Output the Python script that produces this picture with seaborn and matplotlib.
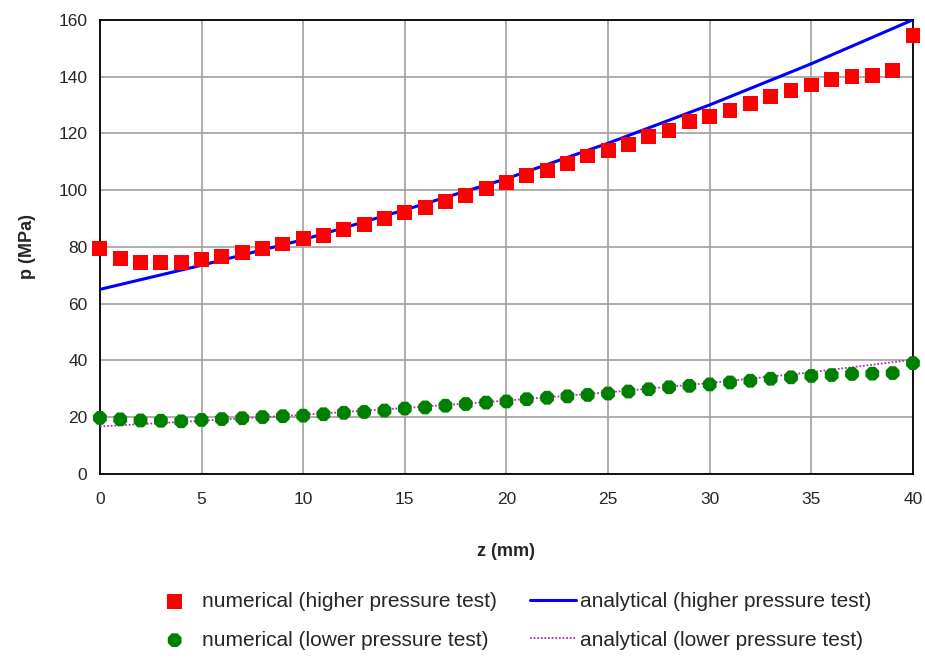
import numpy as np
import pandas as pd
import matplotlib
matplotlib.use("Agg")
import matplotlib.pyplot as plt
import seaborn as sns

# Numerical results, one point per mm
z_num = list(range(0, 41))
p_num_high = [79.5, 76.0, 74.5, 74.5, 74.5, 75.5, 76.5, 78.0, 79.5, 81.0,
              83.0, 84.0, 86.0, 88.0, 90.0, 92.0, 94.0, 96.0, 98.0, 100.5,
              102.5, 105.0, 107.0, 109.5, 112.0, 114.0, 116.0, 119.0, 121.0, 124.0,
              126.0, 128.0, 130.5, 133.0, 135.0, 137.0, 139.0, 140.0, 140.5, 142.0,
              154.5]
p_num_low = [19.7, 19.2, 18.8, 18.7, 18.5, 19.0, 19.3, 19.6, 20.0, 20.3,
             20.5, 21.0, 21.5, 21.8, 22.3, 23.0, 23.4, 24.0, 24.6, 25.1,
             25.5, 26.3, 26.8, 27.3, 27.8, 28.3, 29.0, 29.8, 30.5, 31.0,
             31.5, 32.2, 32.8, 33.5, 34.0, 34.5, 34.8, 35.2, 35.3, 35.5,
             39.0]

# Analytical curves
z_ana = [0, 5, 10, 15, 20, 25, 30, 35, 40]
p_ana_high = [65.0, 73.5, 82.5, 93.0, 104.0, 116.5, 130.0, 144.5, 160.0]
p_ana_low = [16.7, 18.7, 20.8, 23.2, 25.8, 28.7, 32.0, 35.8, 40.2]

sns.set_style("white")
plt.rcParams["font.family"] = ["Liberation Sans", "DejaVu Sans"]

fig = plt.figure(figsize=(9.25, 6.59), dpi=100)
ax = fig.add_axes([0.108, 0.281, 0.879, 0.689])

num = pd.DataFrame({"z": z_num, "high": p_num_high, "low": p_num_low})
ana = pd.DataFrame({"z": z_ana, "high": p_ana_high, "low": p_ana_low})

sns.lineplot(data=ana, x="z", y="high", ax=ax, color="#0000ff", linewidth=2.2,
             label="analytical (higher pressure test)", zorder=3)
sns.lineplot(data=ana, x="z", y="low", ax=ax, color="#b030b0", linewidth=1.3,
             linestyle=(0, (1, 1)), label="analytical (lower pressure test)", zorder=3)
sns.scatterplot(data=num, x="z", y="high", ax=ax, marker="s", s=115, color="#ff0000",
                edgecolor="none", label="numerical (higher pressure test)", zorder=4,
                clip_on=False)
sns.scatterplot(data=num, x="z", y="low", ax=ax, marker="8", s=115, color="#008000",
                edgecolor="none", label="numerical (lower pressure test)", zorder=4,
                clip_on=False)

ax.set_xlim(0, 40)
ax.set_ylim(0, 160)
ax.set_xticks(range(0, 41, 5))
ax.set_yticks(range(0, 161, 20))
ax.grid(True, color="#a0a0a0", linewidth=1.2)
ax.set_axisbelow(True)
for sp in ax.spines.values():
    sp.set_color("black")
    sp.set_linewidth(1.3)
ax.tick_params(axis="both", direction="out", length=5, width=1.2, color="black",
               labelsize=12.5, pad=4)
ax.tick_params(axis="x", pad=8)
ax.set_xlabel("z (mm)", fontsize=13, fontweight="bold", labelpad=26)
ax.set_ylabel("p (MPa)", fontsize=13, fontweight="bold", labelpad=16)

h, l = ax.get_legend_handles_labels()
order = [2, 3, 0, 1]
ax.get_legend().remove()
fig.legend([h[i] for i in order], [l[i] for i in order], ncol=2, frameon=False,
           loc="center", bbox_to_anchor=(0.553, 0.058), fontsize=15,
           handlelength=2.2, handletextpad=0.2, columnspacing=1.6, labelspacing=0.95)

fig.savefig("out.png", dpi=100)
